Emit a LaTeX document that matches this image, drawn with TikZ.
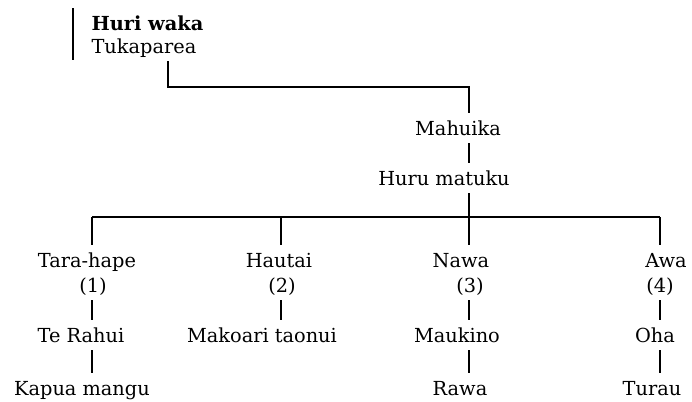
\documentclass[tikz,border=0pt]{standalone}
\usepackage{fontspec}
\setmainfont{DejaVu Serif}
\begin{document}
\begin{tikzpicture}[x=0.75pt,y=-0.75pt,line width=1.4pt,
	person/.style={font=\fontsize{14.5}{17}\selectfont,anchor=base,inner xsep=2pt,inner ysep=4pt,text height=12pt,text depth=1.5pt}]
	\useasboundingbox (0,0) rectangle (692,401);
	% top of the line
	\node[person,anchor=base west] (huri) at (88,30) {\textbf{Huri waka}};
	\node[person,anchor=base west] (tuka) at (88,53) {Tukaparea};
	\node[person] (mahuika) at (458,135) {Mahuika};
	\node[person] (huru) at (444,185) {Huru matuku};
	% the four children
	\node[person] (tara) at (87,267) {Tara-hape};
	\node[person] (n1) at (93,292) {(1)};
	\node[person] (terahui) at (81,342) {Te Rahui};
	\node[person] (kapua) at (82,395) {Kapua mangu};
	\node[person] (hautai) at (279,267) {Hautai};
	\node[person] (n2) at (282,292) {(2)};
	\node[person] (makoari) at (262,342) {Makoari taonui};
	\node[person] (nawa) at (461,267) {Nawa};
	\node[person] (n3) at (470,292) {(3)};
	\node[person] (maukino) at (457,342) {Maukino};
	\node[person] (rawa) at (460,395) {Rawa};
	\node[person] (awa) at (666,267) {Awa};
	\node[person] (n4) at (660,292) {(4)};
	\node[person] (oha) at (655,342) {Oha};
	\node[person] (turau) at (652,395) {Turau};
	% lines
	\coordinate (bartop) at (73,8); \coordinate (barbot) at (73,60);
	\coordinate (elbow) at (168,87);
	\coordinate (colA) at (92,217); \coordinate (colB) at (281,217);
	\coordinate (colC) at (469,217); \coordinate (colD) at (660,217);
	\draw (bartop) -- (barbot);
	\draw (tuka.south -| elbow) -- (elbow) -| (mahuika.north -| colC);
	\draw (mahuika.south -| colC) -- (huru.north -| colC);
	\draw (huru.south -| colC) -- (colC);
	\draw (colA) -- (colD);
	\draw (colA) -- (tara.north -| colA);
	\draw (colB) -- (hautai.north -| colB);
	\draw (colC) -- (nawa.north -| colC);
	\draw (colD) -- (awa.north -| colD);
	\draw (n1.south -| colA) -- (terahui.north -| colA);
	\draw (n2.south -| colB) -- (makoari.north -| colB);
	\draw (n3.south -| colC) -- (maukino.north -| colC);
	\draw (n4.south -| colD) -- (oha.north -| colD);
	\draw (terahui.south -| colA) -- (kapua.north -| colA);
	\draw (maukino.south -| colC) -- (rawa.north -| colC);
	\draw (oha.south -| colD) -- (turau.north -| colD);
\end{tikzpicture}
\end{document}
